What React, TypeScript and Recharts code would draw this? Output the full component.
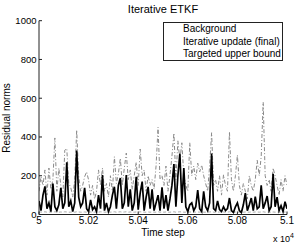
import { Line, LineChart, XAxis, YAxis } from "recharts"

const startStep = 50000
const stepSize = 8

const background = [
  120, 195, 150, 230, 100, 240, 130, 180, 395, 120,
  240, 150, 90, 332, 340, 160, 140, 90, 180, 436,
  200, 120, 150, 195, 220, 178, 100, 150, 80, 120,
  230, 150, 240, 120, 160, 90, 200, 120, 298, 160,
  210, 290, 150, 240, 317, 180, 230, 130, 200, 270,
  150, 338, 200, 230, 120, 200, 150, 180, 130, 250,
  450, 180, 200, 150, 250, 120, 200, 300, 420, 180,
  380, 280, 370, 200, 150, 120, 370, 200, 250, 180,
  265, 220, 255, 200, 160, 120, 250, 422, 150, 180,
  120, 200, 100, 205, 150, 120, 427, 180, 120, 200,
  307, 150, 100, 160, 120, 80, 200, 150, 120, 180,
  280, 200, 300, 580, 200, 150, 180, 120, 240, 200,
  150, 100, 180, 120, 200, 150,
]

const iterative = [
  70, 20, 100, 145, 30, 60, 15, 160, 40, 20,
  50, 137, 30, 60, 270, 40, 70, 15, 60, 330,
  90, 40, 60, 137, 30, 15, 75, 25, 40, 15,
  100, 30, 204, 20, 60, 15, 40, 100, 143, 30,
  150, 188, 30, 60, 204, 40, 130, 20, 60, 195,
  25, 110, 170, 20, 90, 143, 30, 130, 20, 60,
  100, 20, 140, 30, 100, 20, 80, 150, 260, 40,
  200, 315, 60, 240, 40, 15, 50, 60, 20, 40,
  126, 30, 15, 120, 40, 20, 60, 315, 30, 20,
  70, 25, 15, 40, 20, 30, 85, 20, 10, 40,
  60, 20, 10, 50, 110, 20, 50, 85, 20, 92,
  30, 40, 150, 30, 60, 95, 20, 40, 210, 40,
  90, 20, 45, 15, 66, 30,
]

const targeted = [
  12, 13, 12, 14, 12, 13, 12, 12, 14, 13,
  12, 13, 12, 14, 13, 12, 12, 13, 12, 14,
  13, 12, 12, 13, 12, 12, 13, 12, 12, 13,
  12, 14, 13, 12, 12, 13, 12, 13, 14, 12,
  13, 14, 12, 13, 14, 12, 13, 12, 12, 13,
  12, 14, 13, 12, 12, 13, 12, 13, 12, 12,
  14, 12, 13, 12, 13, 12, 12, 13, 14, 12,
  13, 14, 13, 12, 12, 12, 13, 12, 13, 12,
  13, 12, 13, 12, 12, 12, 13, 14, 12, 12,
  12, 13, 12, 13, 12, 12, 14, 12, 12, 13,
  13, 12, 12, 12, 13, 12, 12, 13, 12, 13,
  13, 12, 13, 14, 12, 12, 12, 12, 13, 12,
  12, 12, 13, 12, 13, 12,
]

const xTicks = [50000, 50200, 50400, 50600, 50800, 51000]
const yTicks = [0, 200, 400, 600, 800, 1000]
const legendLabels = ["Background", "Iterative update (final)", "Targeted upper bound"]

const data = iterative.map((v, i) => ({
  step: startStep + i * stepSize,
  background: background[i],
  iterative: v,
  targeted: targeted[i],
}))

const font = "'Liberation Sans', Arial, Helvetica, sans-serif"

export default function App() {
  return (
    <div style={{ position: "absolute", left: 0, top: 0, width: 296, height: 242, background: "#fff", fontFamily: font }}>
      <LineChart width={296} height={242} data={data} margin={{ top: 20.7, right: 9, bottom: 0, left: 0 }}>
        <XAxis
          dataKey="step"
          type="number"
          domain={[50000, 51000]}
          ticks={xTicks}
          tickFormatter={(t: number) => String(t / 10000)}
          height={27.5}
          tickSize={-3}
          tickMargin={5.5}
          stroke="#222"
          tick={{ fill: "#000", fontSize: 10, fontFamily: font }}
          allowDataOverflow
        />
        <XAxis xAxisId="top" orientation="top" dataKey="step" type="number" domain={[50000, 51000]} ticks={xTicks} height={0} tick={false} tickSize={-3} stroke="#888" />
        <YAxis
          domain={[0, 1000]}
          ticks={yTicks}
          width={39}
          tickSize={-3}
          tickMargin={5.5}
          stroke="#222"
          tick={{ fill: "#000", fontSize: 9.5, fontFamily: font }}
          allowDataOverflow
        />
        <YAxis yAxisId="right" orientation="right" domain={[0, 1000]} ticks={yTicks} width={0} tick={false} tickSize={-3} stroke="#888" />
        <Line dataKey="background" stroke="#8a8a8a" strokeWidth={1} strokeDasharray="4 2 1 2" dot={false} activeDot={false} isAnimationActive={false} />
        <Line dataKey="targeted" stroke="#aaa" strokeWidth={1} strokeDasharray="3 2" dot={false} activeDot={false} isAnimationActive={false} />
        <Line dataKey="iterative" stroke="#000" strokeWidth={1.7} dot={false} activeDot={false} isAnimationActive={false} />
      </LineChart>

      <div style={{ position: "absolute", left: 39, top: 3.5, width: 248, textAlign: "center", fontSize: 11, lineHeight: "11px" }}>Iterative ETKF</div>
      <div style={{ position: "absolute", left: -53.5, top: 112.6, width: 120, height: 10, textAlign: "center", fontSize: 10, lineHeight: "10px", transform: "rotate(-90deg)" }}>Residual norms</div>
      <div style={{ position: "absolute", left: 39, top: 228, width: 248, textAlign: "center", fontSize: 10, lineHeight: "10px" }}>Time step</div>
      <div style={{ position: "absolute", left: 273, top: 233.5, fontSize: 9, lineHeight: "10px", whiteSpace: "nowrap" }}>
        x 10<span style={{ fontSize: 7, position: "relative", top: -4 }}>4</span>
      </div>

      <div style={{ position: "absolute", left: 163, top: 22, width: 120, height: 39, boxSizing: "border-box", border: "1px solid #222", background: "#fff", paddingLeft: 19, paddingTop: 0, fontSize: 10, lineHeight: "12.5px" }}>
        {legendLabels.map((label) => (
          <div key={label} style={{ whiteSpace: "nowrap" }}>{label}</div>
        ))}
      </div>
    </div>
  )
}
